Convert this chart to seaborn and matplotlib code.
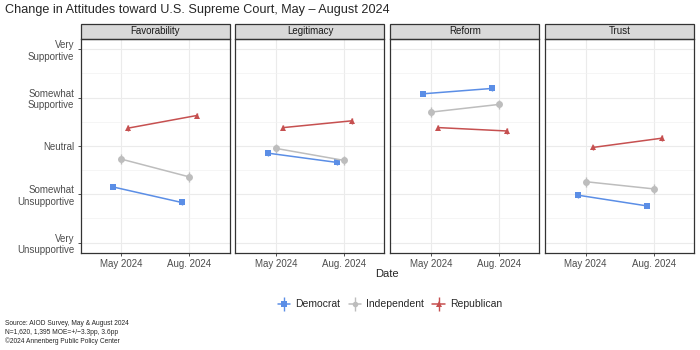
import numpy as np
import pandas as pd
import matplotlib
matplotlib.use('Agg')
import matplotlib.pyplot as plt
from matplotlib.patches import Rectangle
from matplotlib.lines import Line2D
from matplotlib.legend_handler import HandlerTuple
import seaborn as sns

# data (1 = Very Unsupportive ... 5 = Very Supportive)
measures = ['Favorability', 'Legitimacy', 'Reform', 'Trust']
parties = ['Democrat', 'Independent', 'Republican']
waves = ['May 2024', 'Aug. 2024']
level_labels = ['Very\nUnsupportive', 'Somewhat\nUnsupportive', 'Neutral',
                'Somewhat\nSupportive', 'Very\nSupportive']

dem_may = [2.15, 2.85, 4.08, 1.98]
dem_aug = [1.83, 2.66, 4.19, 1.76]
ind_may = [2.73, 2.95, 3.70, 2.26]
ind_aug = [2.36, 2.70, 3.86, 2.11]
rep_may = [3.37, 3.38, 3.38, 2.97]
rep_aug = [3.63, 3.52, 3.31, 3.16]
err = {'Democrat': 0.05, 'Independent': 0.10, 'Republican': 0.06}

rows = []
for party, may, aug in [('Democrat', dem_may, dem_aug),
                        ('Independent', ind_may, ind_aug),
                        ('Republican', rep_may, rep_aug)]:
    for i, m in enumerate(measures):
        rows.append(dict(measure=m, party=party, wave=0, value=may[i]))
        rows.append(dict(measure=m, party=party, wave=1, value=aug[i]))
df = pd.DataFrame(rows)

dodge = 0.11
offsets = {'Democrat': -dodge, 'Independent': 0.0, 'Republican': dodge}
df['x'] = df['wave'] + df['party'].map(offsets)
df['err'] = df['party'].map(err)

palette = {'Democrat': '#5b8ee6', 'Independent': '#bdbdbd', 'Republican': '#c65050'}
markers = {'Democrat': 's', 'Independent': 'o', 'Republican': '^'}

sns.set_style('white')
plt.rcParams['font.family'] = ['Liberation Sans', 'DejaVu Sans']

fig, axes = plt.subplots(1, 4, figsize=(7, 3.5), dpi=100, sharey=True)
fig.subplots_adjust(left=0.115, right=0.992, top=0.888, bottom=0.278, wspace=0.04)

for ax, m in zip(axes, measures):
    d = df[df['measure'] == m]
    sns.lineplot(data=d, x='x', y='value', hue='party', style='party',
                 palette=palette, markers=markers, dashes=False, legend=False,
                 markersize=5, markeredgewidth=0, linewidth=1.1, ax=ax,
                 zorder=3)
    for p in parties:
        dp = d[d['party'] == p]
        ax.errorbar(dp['x'], dp['value'], yerr=dp['err'], fmt='none',
                    ecolor=palette[p], elinewidth=1, capsize=0, zorder=2)
    ax.set_xlim(-0.59, 1.59)
    ax.set_ylim(0.79, 5.21)
    ax.set_xticks([0, 1])
    ax.set_xticklabels(waves)
    ax.set_yticks([1, 2, 3, 4, 5])
    ax.set_yticks([1.5, 2.5, 3.5, 4.5], minor=True)
    ax.set_yticklabels(level_labels, multialignment='right')
    ax.set_xlabel('')
    ax.set_ylabel('')
    ax.grid(True, which='major', color='#ebebeb', linewidth=0.8, zorder=0)
    ax.grid(True, which='minor', axis='y', color='#f2f2f2', linewidth=0.5, zorder=0)
    ax.set_axisbelow(True)
    for s in ax.spines.values():
        s.set_visible(True)
        s.set_color('#333333')
        s.set_linewidth(0.9)
    ax.tick_params(axis='both', which='major', length=2.5, width=0.6, color='#333333',
                   labelsize=7, labelcolor='#4d4d4d', pad=2, bottom=True, left=True)
    ax.tick_params(axis='y', which='minor', length=0)
    # facet strip
    ax.add_patch(Rectangle((0, 1.0), 1, 0.073, transform=ax.transAxes,
                           facecolor='#d9d9d9', edgecolor='#333333', linewidth=0.9,
                           clip_on=False))
    ax.text(0.5, 1.0365, m, transform=ax.transAxes, ha='center', va='center',
            fontsize=7, color='#1a1a1a')

for ax in axes[1:]:
    ax.tick_params(axis='y', which='major', left=False)

fig.text(0.007, 0.972, 'Change in Attitudes toward U.S. Supreme Court, May \u2013 August 2024',
         fontsize=9.1, ha='left', va='center')
fig.text(0.553, 0.218, 'Date', fontsize=8, ha='center', va='center')

handles = []
for p in parties:
    pt = Line2D([], [], color=palette[p], marker=markers[p], markersize=4,
                markeredgewidth=0, linewidth=1.1)
    vb = Line2D([], [], color=palette[p], marker='|', markersize=10,
                markeredgewidth=1, linestyle='none')
    handles.append((pt, vb))
fig.legend(handles, parties, loc='center', bbox_to_anchor=(0.557, 0.131), ncol=3,
           frameon=False, fontsize=7.5, handlelength=1.2, columnspacing=0.8,
           handletextpad=0.5, handler_map={tuple: HandlerTuple(ndivide=1)})

fig.text(0.007, 0.05,
         'Source: AIOD Survey, May & August 2024\nN=1,620, 1,395 MOE=+/\u22123.3pp, 3.6pp\n\u00a92024 Annenberg Public Policy Center',
         fontsize=4.8, ha='left', va='center', linespacing=1.3)

fig.savefig('out.png', dpi=100)
